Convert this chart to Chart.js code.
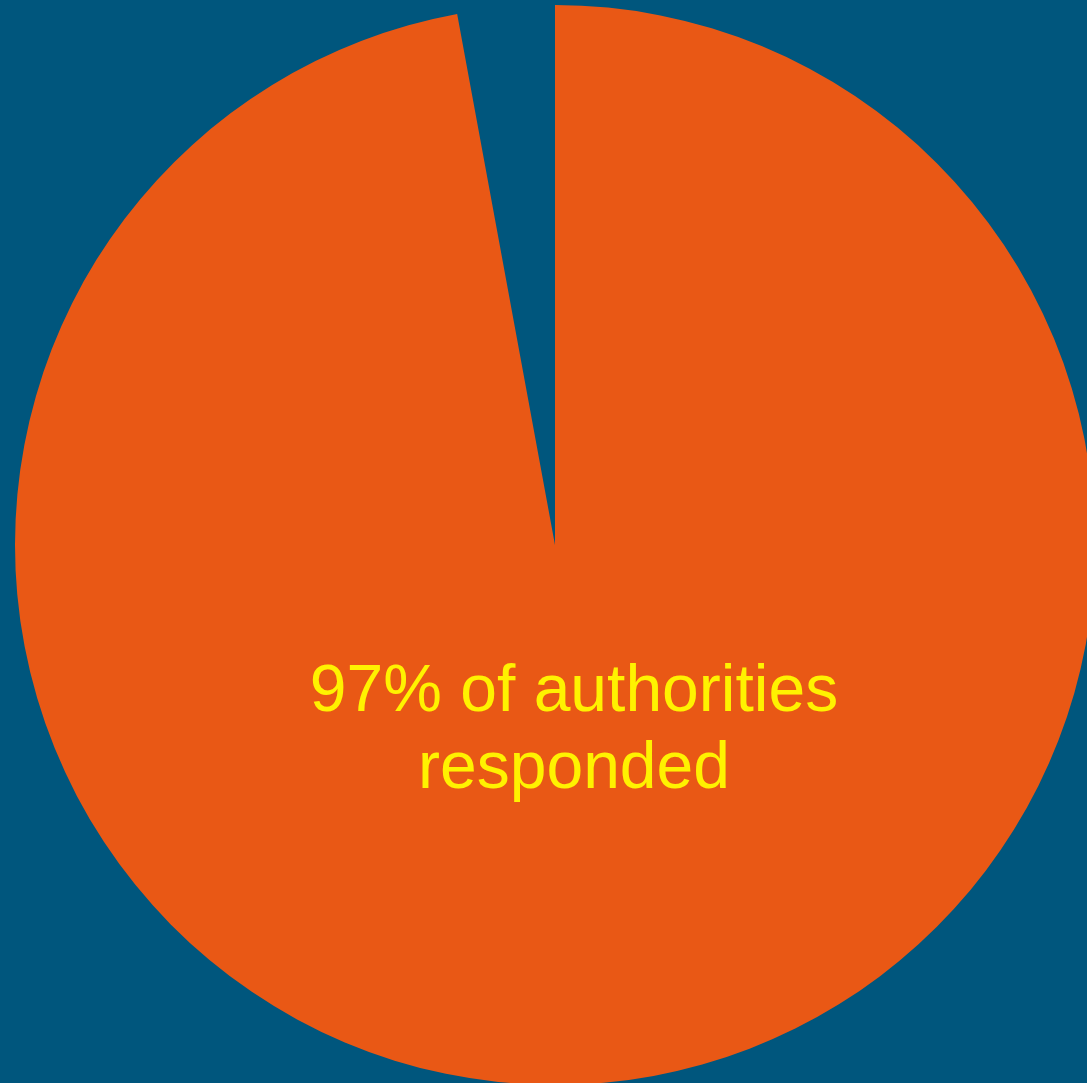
<!DOCTYPE html>
<html>
<head>
<meta charset="utf-8">
<script src="https://cdn.jsdelivr.net/npm/chart.js@4"></script>
<style>
    html, body { margin: 0; padding: 0; background: #00567d; overflow: hidden; width: 1087px; height: 1083px; }
    #wrap { position: absolute; left: 15px; top: 5px; width: 1080px; height: 1080px; }
</style>
</head>
<body>
<div id="wrap"><canvas id="pie"></canvas></div>
<script>
const labels = ['Responded', 'Did not respond'];
const values = [97.1, 2.9];
const colours = ['#e95815', 'rgba(0,0,0,0)'];
const captionLines = ['97% of authorities', 'responded'];

// Draw the caption inside the big slice
const captionPlugin = {
    id: 'caption',
    afterDraw(chart) {
        const ctx = chart.ctx;
        ctx.save();
        ctx.fillStyle = '#fff200';
        ctx.font = '66px "Liberation Sans", Arial, sans-serif';
        ctx.textAlign = 'center';
        ctx.textBaseline = 'alphabetic';
        ctx.fillText(captionLines[0], 559, 706);
        ctx.fillText(captionLines[1], 559, 783);
        ctx.restore();
    }
};

new Chart(document.getElementById('pie'), {
    type: 'pie',
    data: {
        labels: labels,
        datasets: [{
            data: values,
            backgroundColor: colours,
            borderWidth: 0
        }]
    },
    options: {
        responsive: true,
        maintainAspectRatio: false,
        animation: false,
        layout: { padding: 0 },
        plugins: {
            legend: { display: false },
            tooltip: { enabled: false }
        }
    },
    plugins: [captionPlugin]
});
</script>
</body>
</html>
